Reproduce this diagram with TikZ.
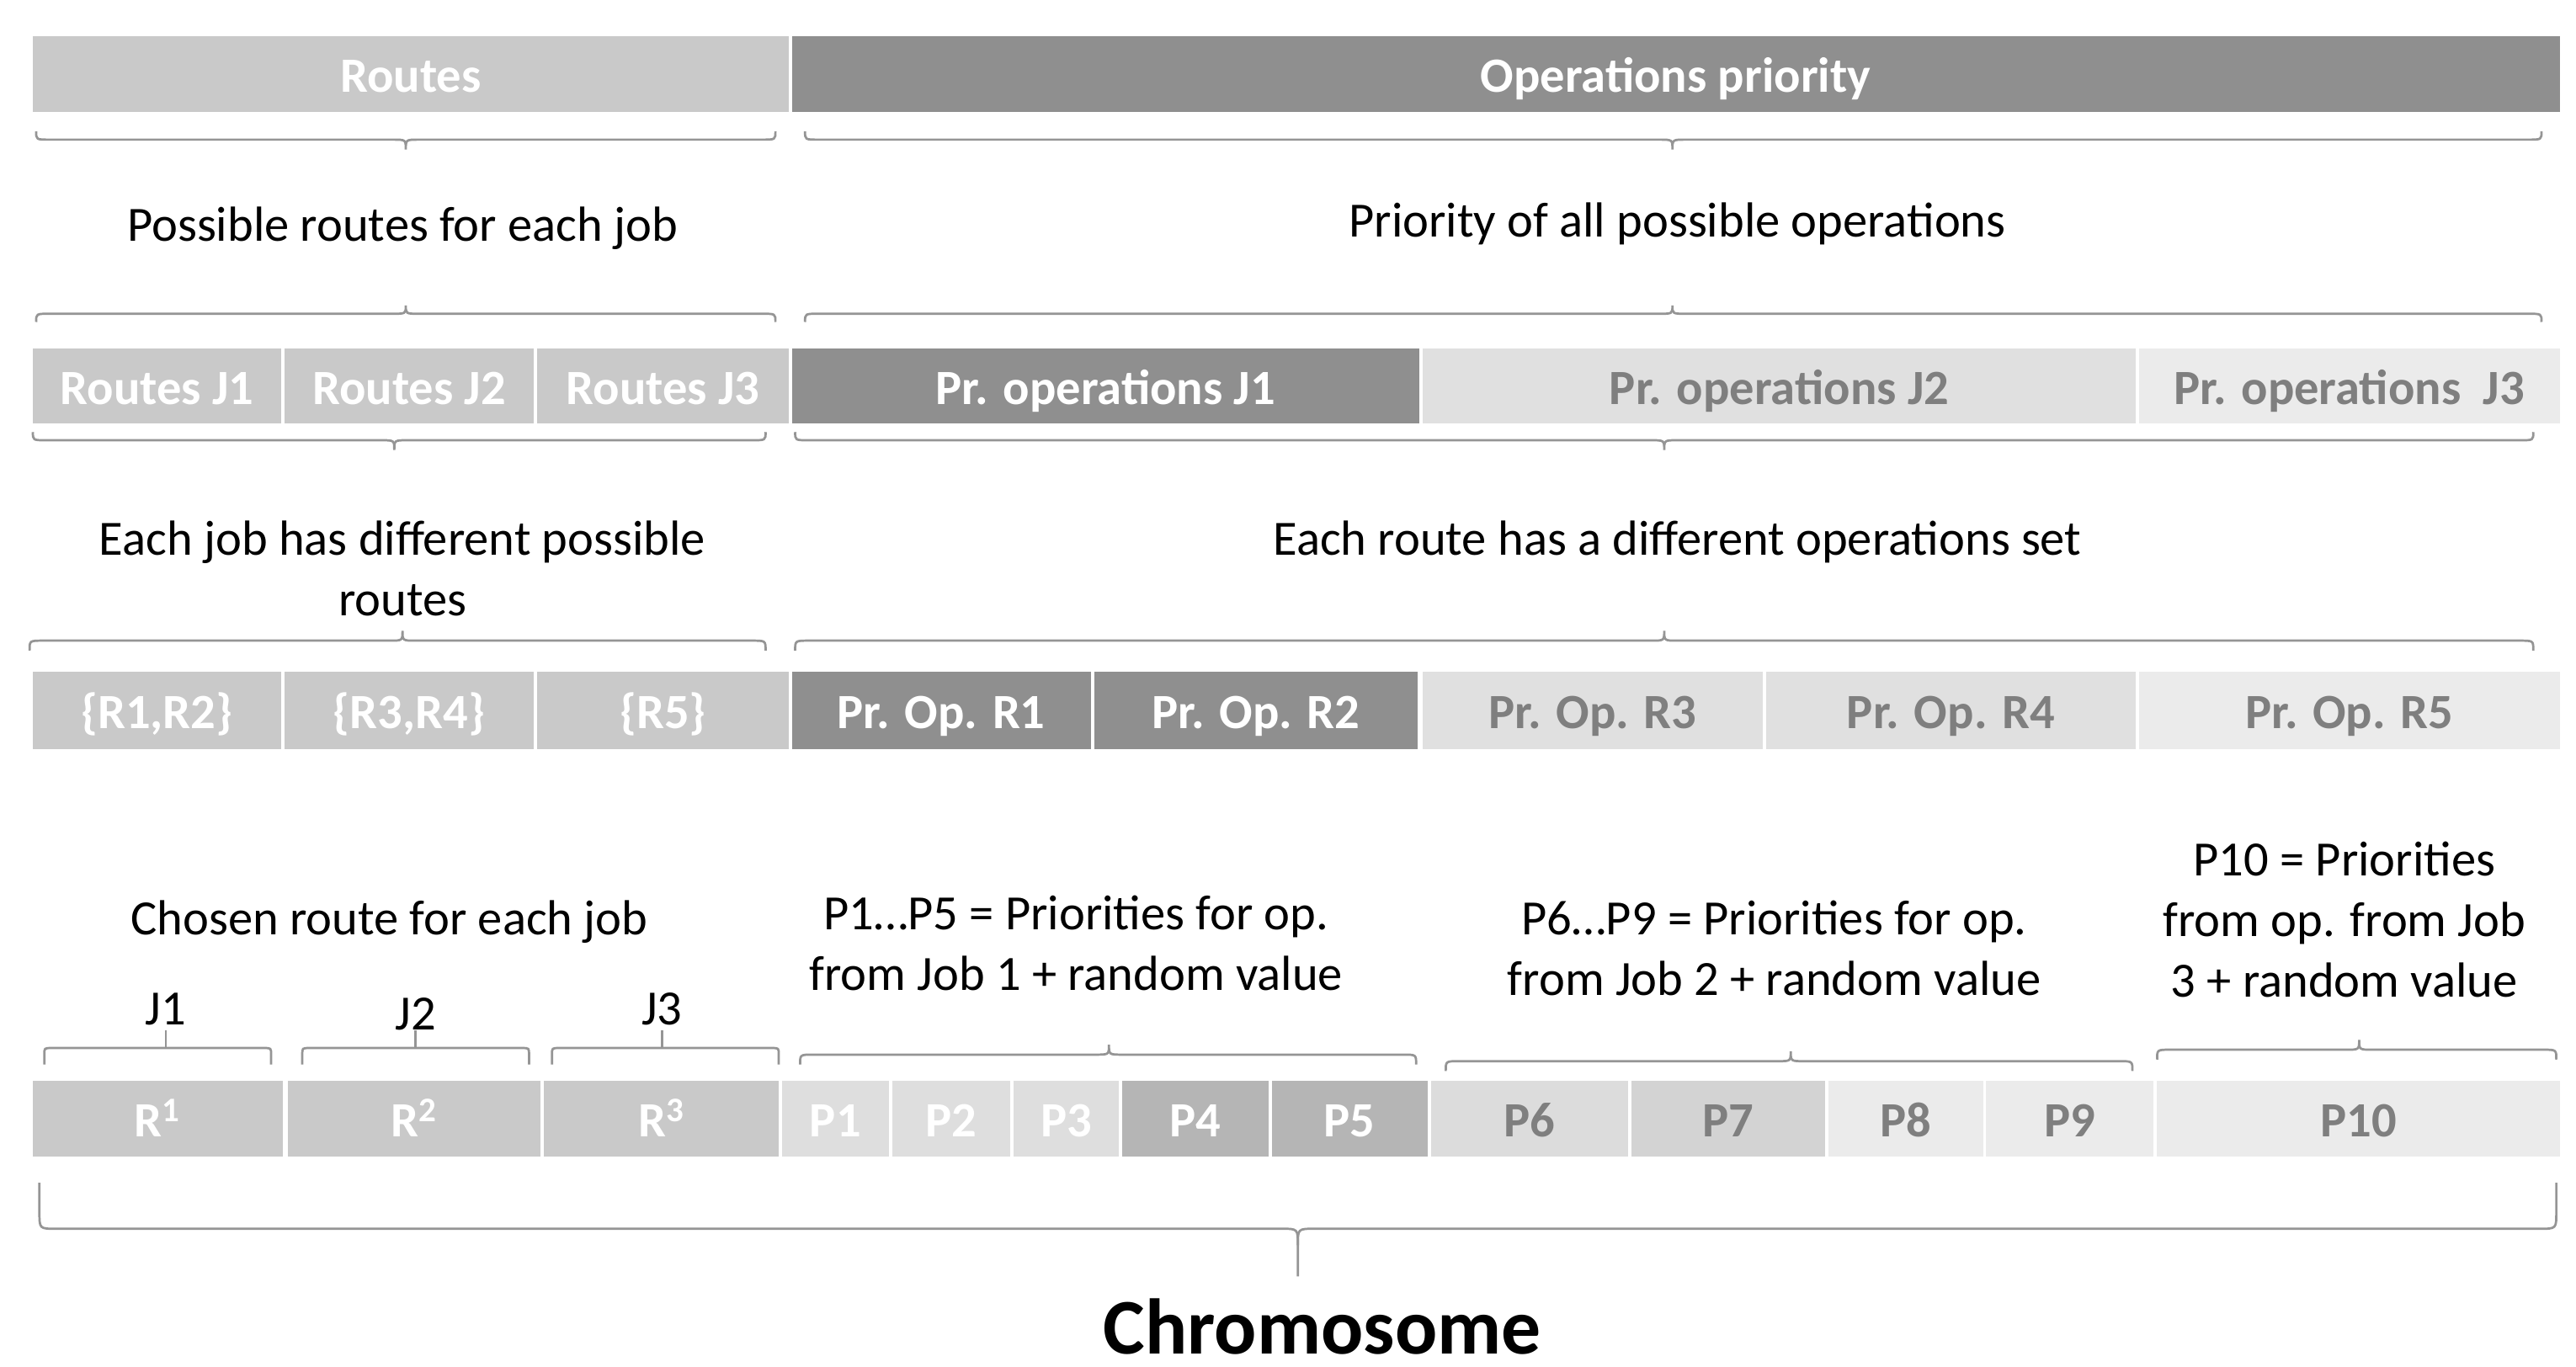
\documentclass[tikz,border=0pt]{standalone}
\usepackage{fontspec}
\setmainfont{Carlito}
\definecolor{cA}{HTML}{C9C9C9}
\definecolor{cD}{HTML}{8F8F8F}
\definecolor{cL}{HTML}{E0E0E0}
\definecolor{cXL}{HTML}{EBEBEB}
\definecolor{cPa}{HTML}{DEDEDE}
\definecolor{cPb}{HTML}{B5B5B5}
\definecolor{cPc}{HTML}{DCDCDC}
\definecolor{cPd}{HTML}{D3D3D3}
\definecolor{tG}{HTML}{7F7F7F}
\definecolor{brgray}{HTML}{959595}
\newcommand\cell[8]{\node[cell, fill=#6, text=#7, minimum width={#3-#2}, minimum height={#5-#4}] (#1) at ({(#2+#3)/2},{(#4+#5)/2}) {#8};}
\newcommand\gbrace[6]{\draw[br] (#1,#4) .. controls (#1,#5) .. (#1+8,#5) -- (#3-8,#5) .. controls (#3,#5) .. (#3,#6) .. controls (#3,#5) .. (#3+8,#5) -- (#2-8,#5) .. controls (#2,#5) .. (#2,#4);}
\newcommand\jbr[3]{\draw[br] (#1,648) -- (#1,642) .. controls (#1,638) .. (#1+4,638) -- (#2-4,638) .. controls (#2,638) .. (#2,642) -- (#2,648); \draw[br] (#3,638) -- (#3,627);}
\begin{document}
\begin{tikzpicture}[x=1pt,y=-1pt,
  cell/.style={draw=none, inner sep=0pt, outer sep=0pt, font=\fontsize{30}{36}\selectfont\bfseries, text height=24pt, text depth=2pt},
  lbl/.style={align=center, inner sep=0pt, text=black, font=\fontsize{30}{37}\selectfont, anchor=base},
  br/.style={draw=brgray, line width=1.4pt}]
\useasboundingbox[fill=white] (0,0) rectangle (1568,832);
% row 1
\cell{routes}{20}{480}{22}{68}{cA}{white}{Routes}
\cell{opsprio}{482}{1558}{22}{68}{cD}{white}{Operations priority}
\gbrace{22}{472}{247}{80}{85}{91}
\gbrace{490}{1547}{1018}{80}{85}{91}
\node[lbl] (t1) at (245,147) {Possible routes for each job};
\node[lbl] (t2) at (1021,144) {Priority of all possible operations};
\gbrace{22}{472}{247}{196}{191}{186}
\gbrace{490}{1547}{1018}{196}{191}{186}
% row 2
\cell{rj1}{20}{171}{212}{258}{cA}{white}{Routes J1}
\cell{rj2}{173}{325}{212}{258}{cA}{white}{Routes J2}
\cell{rj3}{327}{480}{212}{258}{cA}{white}{Routes J3}
\cell{pj1}{482}{864}{212}{258}{cD}{white}{Pr. operations J1}
\cell{pj2}{866}{1300}{212}{258}{cL}{tG}{Pr. operations J2}
\cell{pj3}{1302}{1558}{212}{258}{cXL}{tG}{Pr. operations\ \ J3}
\gbrace{20}{466}{240}{263}{268}{274}
\gbrace{484}{1542}{1013}{263}{268}{274}
\node[lbl] (t3) at (245,375) {Each job has different possible\\routes};
\node[lbl] (t4) at (1021,338) {Each route has a different operations set};
\gbrace{18}{466}{245}{396}{390}{384}
\gbrace{484}{1542}{1013}{396}{390}{384}
% row 3
\cell{s1}{20}{171}{409}{456}{cA}{white}{\{R1,R2\}}
\cell{s2}{173}{325}{409}{456}{cA}{white}{\{R3,R4\}}
\cell{s3}{327}{480}{409}{456}{cA}{white}{\{R5\}}
\cell{pr1}{482}{664}{409}{456}{cD}{white}{Pr. Op. R1}
\cell{pr2}{666}{863}{409}{456}{cD}{white}{Pr. Op. R2}
\cell{pr3}{866}{1073}{409}{456}{cL}{tG}{Pr. Op. R3}
\cell{pr4}{1075}{1300}{409}{456}{cL}{tG}{Pr. Op. R4}
\cell{pr5}{1302}{1558}{409}{456}{cXL}{tG}{Pr. Op. R5}
% row 4 texts
\node[lbl] (t5) at (237,569) {Chosen route for each job};
\node[lbl] (t6) at (655,603) {P1…P5 = Priorities for op.\\from Job 1 + random value};
\node[lbl] (t7) at (1080,606) {P6…P9 = Priorities for op.\\from Job 2 + random value};
\node[lbl] (t8) at (1427,607) {P10 = Priorities\\from op. from Job\\3 + random value};
\node[lbl] (j1) at (101,624) {J1};
\node[lbl] (j2) at (253,627) {J2};
\node[lbl] (j3) at (403,624) {J3};
\jbr{27}{165}{101}
\jbr{184}{322}{253}
\jbr{336}{474}{403}
\gbrace{487}{862}{675}{648}{642}{636}
\gbrace{880}{1298}{1090}{652}{646}{640}
\gbrace{1313}{1556}{1436}{645}{639}{633}
% row 5
\cell{c1}{20}{172}{658}{704}{cA}{white}{R\textsuperscript{1}}
\cell{c2}{175}{329}{658}{704}{cA}{white}{R\textsuperscript{2}}
\cell{c3}{331}{474}{658}{704}{cA}{white}{R\textsuperscript{3}}
\cell{p1}{476}{541}{658}{704}{cPa}{white}{P1}
\cell{p2}{543}{615}{658}{704}{cPa}{white}{P2}
\cell{p3}{617}{681}{658}{704}{cPa}{white}{P3}
\cell{p4}{683}{772}{658}{704}{cPb}{white}{P4}
\cell{p5}{774}{869}{658}{704}{cPb}{white}{P5}
\cell{p6}{871}{991}{658}{704}{cPc}{tG}{P6}
\cell{p7}{993}{1111}{658}{704}{cPd}{tG}{P7}
\cell{p8}{1113}{1207}{658}{704}{cXL}{tG}{P8}
\cell{p9}{1209}{1311}{658}{704}{cXL}{tG}{P9}
\cell{p10}{1313}{1558}{658}{704}{cXL}{tG}{P10}
% chromosome brace
\draw[br] (24,720) -- (24,738) .. controls (24,748) .. (34,748) -- (780,748) .. controls (790,748) .. (790,758) -- (790,777);
\draw[br] (790,758) .. controls (790,748) .. (800,748) -- (1546,748) .. controls (1556,748) .. (1556,738) -- (1556,720);
\node[inner sep=0pt, anchor=base, text=black, font=\fontsize{48}{56}\selectfont\bfseries] (chrom) at (805,824) {Chromosome};
\end{tikzpicture}
\end{document}
